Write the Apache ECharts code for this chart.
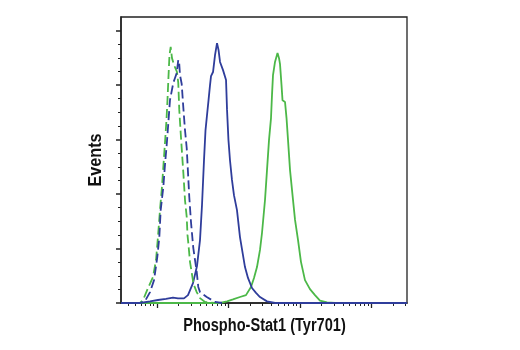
<!DOCTYPE html>
<html>
<head>
<meta charset="utf-8">
<script src="https://cdn.jsdelivr.net/npm/echarts@6/dist/echarts.min.js"></script>
<style>
  html, body { margin: 0; padding: 0; background: #fff; }
  #chart { width: 520px; height: 350px; }
</style>
</head>
<body>
<div id="chart"></div>
<script>
// Fluorescence intensity on a log10 scale (decades), event counts on the y axis.
const xTitle = 'Phospho-Stat1 (Tyr701)';
const yTitle = 'Events';

const xMajorTicks = [1, 2, 3, 4];
const yMajorTicks = [0, 20, 40, 60, 80, 100];
const yMinorTicks = [5, 10, 15, 25, 30, 35, 45, 50, 55, 65, 70, 75, 85, 90, 95];

// Untreated cells, isotype control (green dashed)
const untreatedIsoLog = [0.5, 0.766, 0.808, 0.878, 0.948, 0.990, 1.017, 1.045, 1.073, 1.094, 1.115, 1.136, 1.150, 1.164, 1.178, 1.195, 1.213, 1.234, 1.255, 1.283, 1.301, 1.315, 1.335, 1.357, 1.374, 1.395, 1.419, 1.430, 1.444, 1.465, 1.514, 1.559, 1.605, 1.675, 1.815];
const untreatedIsoEvents = [0, 0, 1.1, 5.5, 9.6, 15.8, 24.2, 34.1, 42.6, 50.7, 58.7, 67.2, 74.5, 83.0, 91.0, 94.0, 89.9, 88.1, 86.6, 84.8, 80.8, 70.9, 62.4, 53.6, 47.0, 37.8, 31.6, 25.0, 21.3, 15.1, 7.0, 4.0, 1.8, 0.4, 0];

// Treated cells, isotype control (blue dashed)
const treatedIsoLog = [0.5, 0.766, 0.836, 0.906, 0.962, 1.008, 1.036, 1.055, 1.092, 1.115, 1.139, 1.162, 1.185, 1.231, 1.255, 1.279, 1.301, 1.315, 1.325, 1.349, 1.371, 1.395, 1.419, 1.433, 1.455, 1.479, 1.511, 1.559, 1.581, 1.605, 1.699, 1.769, 1.815, 1.913];
const treatedIsoEvents = [0, 0, 0.7, 4.0, 8.4, 16.9, 24.2, 34.1, 42.6, 50.7, 58.0, 66.1, 74.5, 80.8, 82.6, 84.4, 89.2, 87.7, 83.7, 80.4, 72.0, 63.5, 56.9, 49.9, 38.9, 29.7, 20.2, 11.4, 5.9, 4.0, 2.2, 1.1, 0.4, 0];

// Untreated cells, Phospho-Stat1 antibody (blue solid)
const untreatedLog = [0.5, 0.766, 0.906, 1.017, 1.129, 1.227, 1.297, 1.381, 1.437, 1.507, 1.563, 1.605, 1.633, 1.661, 1.682, 1.703, 1.724, 1.745, 1.759, 1.787, 1.815, 1.843, 1.864, 1.885, 1.927, 1.969, 1.983, 2.003, 2.024, 2.052, 2.080, 2.122, 2.164, 2.206, 2.234, 2.276, 2.332, 2.388, 2.444, 2.542, 2.654, 4.5];
const untreatedEvents = [0, 0, 0.6, 1.1, 1.5, 2.0, 1.7, 1.7, 2.9, 7.3, 13.6, 23.1, 36.0, 52.5, 63.5, 69.0, 74.4, 80.0, 83.3, 84.8, 91.0, 95.4, 92.9, 88.5, 85.5, 81.9, 70.9, 59.8, 52.5, 45.2, 39.6, 34.1, 24.2, 17.6, 13.2, 9.2, 5.5, 3.7, 2.2, 0.6, 0, 0];

// Treated cells, Phospho-Stat1 antibody (green solid)
const treatedLog = [0.5, 1.885, 1.983, 2.066, 2.164, 2.248, 2.318, 2.360, 2.402, 2.444, 2.472, 2.514, 2.542, 2.570, 2.598, 2.612, 2.626, 2.654, 2.689, 2.710, 2.724, 2.745, 2.759, 2.794, 2.815, 2.836, 2.864, 2.906, 2.934, 2.976, 3.017, 3.073, 3.143, 3.213, 3.283, 3.381, 3.493, 4.5];
const treatedEvents = [0, 0, 0.6, 1.3, 2.2, 2.9, 5.9, 9.2, 13.2, 19.5, 25.7, 37.8, 48.8, 59.8, 67.9, 76.4, 83.7, 88.5, 91.8, 89.9, 87.7, 80.0, 74.4, 73.8, 67.9, 59.8, 48.8, 37.8, 30.5, 23.1, 15.1, 8.4, 5.1, 2.9, 0.9, 0.2, 0, 0];

const BLUE = '#2f3d9b';
const GREEN = '#4cb848';
const AXIS = '#222';
const TITLE_FONT = 'bold 18px "Liberation Sans", Arial, sans-serif';

function pairs(xs, ys) { return xs.map((x, i) => [x, ys[i]]); }

// Minor ticks at 2..9 within each decade
const xMinorTicks = [];
for (let d = 0; d <= 4; d++) {
  for (let k = 2; k <= 9; k++) {
    const v = d + Math.log10(k);
    if (v > 0.5 && v < 4.5) xMinorTicks.push(v);
  }
}

const chart = echarts.init(document.getElementById('chart'), null, { renderer: 'canvas' });

function curve(name, xs, ys, color, dashed) {
  return {
    name, type: 'line', xAxisIndex: 0, yAxisIndex: 0,
    data: pairs(xs, ys), showSymbol: false, smooth: false, z: dashed ? 3 : 2,
    lineStyle: { color, width: 1.8, type: dashed ? [9, 4] : 'solid' },
    animation: false
  };
}

chart.setOption({
  animation: false,
  grid: { left: 121, right: 113, top: 17, bottom: 47, show: true, borderColor: AXIS, borderWidth: 1.3, backgroundColor: 'transparent' },
  // Condensed bold axis titles
  graphic: [
    {
      type: 'text', x: 264.5, y: 326.5, scaleX: 0.81,
      style: { text: xTitle, font: TITLE_FONT, fill: '#111', textAlign: 'center', textVerticalAlign: 'middle' }
    },
    {
      type: 'text', x: 96.5, y: 160, rotation: Math.PI / 2, scaleX: 0.9,
      style: { text: yTitle, font: TITLE_FONT, fill: '#111', textAlign: 'center', textVerticalAlign: 'middle' }
    }
  ],
  xAxis: [
    {
      type: 'value', min: 0.5, max: 4.5, position: 'bottom',
      axisLine: { show: true, lineStyle: { color: AXIS, width: 1.5 } },
      axisTick: { show: true, inside: false, length: 5, customValues: xMajorTicks, lineStyle: { color: AXIS, width: 1.3 } },
      axisLabel: { show: false },
      splitLine: { show: false }
    },
    {
      type: 'value', min: 0.5, max: 4.5, position: 'bottom',
      axisLine: { show: false },
      axisTick: { show: true, inside: false, length: 3, customValues: xMinorTicks, lineStyle: { color: AXIS, width: 1 } },
      axisLabel: { show: false },
      splitLine: { show: false }
    }
  ],
  yAxis: [
    {
      type: 'value', min: 0, max: 105, position: 'left',
      axisLine: { show: true, lineStyle: { color: AXIS, width: 1.5 } },
      axisTick: { show: true, inside: false, length: 5, customValues: yMajorTicks, lineStyle: { color: AXIS, width: 1.5 } },
      axisLabel: { show: false },
      splitLine: { show: false }
    },
    {
      type: 'value', min: 0, max: 105, position: 'left',
      axisLine: { show: false },
      axisTick: { show: true, inside: false, length: 3, customValues: yMinorTicks, lineStyle: { color: AXIS, width: 1 } },
      axisLabel: { show: false },
      splitLine: { show: false }
    }
  ],
  series: [
    curve('Treated', treatedLog, treatedEvents, GREEN, false),
    curve('Untreated', untreatedLog, untreatedEvents, BLUE, false),
    curve('Untreated isotype', untreatedIsoLog, untreatedIsoEvents, GREEN, true),
    curve('Treated isotype', treatedIsoLog, treatedIsoEvents, BLUE, true)
  ]
});
</script>
</body>
</html>
